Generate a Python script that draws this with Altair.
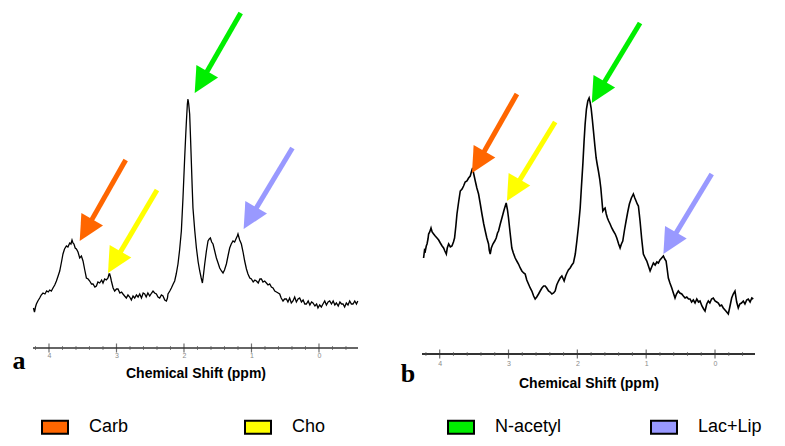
import altair as alt
import pandas as pd

# ---------------- data ----------------
metabolites = ["Carb", "Cho", "N-acetyl", "Lac+Lip"]
metab_colors = ["#FF6600", "#FFFF00", "#00EE00", "#9999FF"]

major_ticks = [4, 3, 2, 1, 0]
minor_ticks = [4.2, 3.8, 3.6, 3.4, 3.2, 2.8, 2.6, 2.4, 2.2, 1.8, 1.6, 1.4, 1.2,
               0.8, 0.6, 0.4, 0.2, -0.2, -0.4]

# panel a spectrum (ppm, arbitrary intensity)
a_ppm = [4.230, 4.215, 4.200, 4.187, 4.165, 4.138, 4.115, 4.089, 4.060, 4.035, 4.010, 3.990, 3.965, 3.941,
         3.915, 3.890, 3.865, 3.841, 3.815, 3.793, 3.770, 3.742, 3.720, 3.693, 3.675, 3.659, 3.645, 3.630,
         3.612, 3.594, 3.570, 3.545, 3.520, 3.496, 3.470, 3.446, 3.420, 3.397, 3.370, 3.348, 3.320, 3.298,
         3.275, 3.249, 3.220, 3.200, 3.175, 3.150, 3.126, 3.110, 3.101, 3.085, 3.076, 3.050, 3.027, 3.000,
         2.978, 2.950, 2.925, 2.904, 2.880, 2.854, 2.830, 2.804, 2.780, 2.755, 2.730, 2.705, 2.680, 2.656,
         2.630, 2.605, 2.582, 2.560, 2.535, 2.508, 2.480, 2.459, 2.435, 2.409, 2.385, 2.360, 2.335, 2.311,
         2.285, 2.261, 2.245, 2.237, 2.210, 2.187, 2.160, 2.138, 2.115, 2.089, 2.065, 2.039, 2.015, 1.990,
         1.975, 1.964, 1.950, 1.941, 1.930, 1.916, 1.903, 1.890, 1.878, 1.867, 1.840, 1.816, 1.790, 1.767,
         1.745, 1.727, 1.710, 1.693, 1.668, 1.644, 1.625, 1.609, 1.590, 1.570, 1.545, 1.520, 1.495, 1.471,
         1.445, 1.422, 1.400, 1.372, 1.345, 1.323, 1.300, 1.274, 1.250, 1.224, 1.210, 1.200, 1.175, 1.150,
         1.125, 1.101, 1.075, 1.052, 1.025, 1.001, 0.975, 0.950, 0.927, 0.900, 0.875, 0.853, 0.830, 0.805,
         0.779, 0.755, 0.730, 0.705, 0.681, 0.655, 0.630, 0.605, 0.582, 0.560, 0.533, 0.510, 0.483, 0.460,
         0.435, 0.410, 0.385, 0.360, 0.335, 0.310, 0.286, 0.260, 0.235, 0.210, 0.187, 0.160, 0.135, 0.110,
         0.089, 0.060, 0.035, 0.015, -0.010, -0.035, -0.059, -0.085, -0.110, -0.135, -0.159, -0.185, -0.210,
         -0.235, -0.258, -0.285, -0.310, -0.335, -0.356, -0.380, -0.405, -0.430, -0.455, -0.480, -0.504,
         -0.530, -0.555, -0.575]
a_int = [40, 36, 41, 44, 47, 50, 53, 55, 54, 57, 56, 58, 57, 60,
         63, 67, 72, 77, 86, 94, 99, 102, 101, 105, 104, 108, 105, 104,
         100, 99, 96, 90, 92, 87, 78, 70, 69, 67, 64, 64, 61, 62,
         66, 65, 68, 65, 69, 68, 70, 74, 74, 70, 67, 60, 57, 59,
         59, 55, 56, 54, 52, 50, 53, 51, 48, 52, 50, 53, 51, 54,
         50, 55, 54, 51, 55, 52, 55, 57, 55, 54, 51, 50, 53, 52,
         48, 47, 50, 54, 57, 60, 64, 67, 74, 84, 98, 117, 150, 190,
         212, 227, 244, 249, 244, 234, 210, 184, 160, 140, 117, 100, 86, 77,
         70, 65, 74, 84, 97, 107, 109, 110, 106, 104, 97, 90, 85, 80,
         77, 75, 78, 84, 93, 100, 104, 107, 106, 110, 112, 114, 108, 104,
         96, 87, 79, 74, 70, 69, 66, 68, 67, 65, 69, 69, 66, 67,
         65, 63, 64, 61, 60, 57, 56, 55, 54, 50, 47, 49, 49, 46,
         50, 45, 47, 51, 46, 49, 50, 46, 48, 44, 44, 47, 43, 46,
         45, 42, 44, 40, 43, 41, 44, 47, 43, 46, 47, 44, 47,
         43, 45, 42, 46, 44, 44, 41, 45, 43, 47, 44, 44,
         47, 44, 47]

# panel b spectrum
b_ppm = [4.234, 4.220, 4.209, 4.195, 4.184, 4.170, 4.161, 4.145, 4.126, 4.110, 4.088, 4.065, 4.039, 4.015,
         3.991, 3.965, 3.943, 3.925, 3.904, 3.890, 3.870, 3.845, 3.822, 3.800, 3.784, 3.765, 3.749, 3.725,
         3.701, 3.675, 3.653, 3.630, 3.604, 3.580, 3.556, 3.540, 3.522, 3.505, 3.483, 3.460, 3.435, 3.410,
         3.386, 3.360, 3.338, 3.315, 3.290, 3.280, 3.266, 3.250, 3.227, 3.200, 3.179, 3.160, 3.145, 3.120,
         3.096, 3.065, 3.034, 3.015, 3.000, 2.975, 2.952, 2.930, 2.903, 2.880, 2.855, 2.830, 2.806, 2.780,
         2.758, 2.735, 2.710, 2.685, 2.661, 2.635, 2.613, 2.590, 2.564, 2.540, 2.515, 2.490, 2.467, 2.445,
         2.419, 2.395, 2.370, 2.345, 2.322, 2.300, 2.274, 2.250, 2.225, 2.205, 2.192, 2.170, 2.152, 2.130,
         2.105, 2.080, 2.057, 2.030, 2.007, 1.983, 1.959, 1.940, 1.920, 1.903, 1.887, 1.868, 1.848, 1.829,
         1.815, 1.800, 1.783, 1.766, 1.745, 1.727, 1.710, 1.694, 1.675, 1.659, 1.645, 1.630, 1.612, 1.597,
         1.580, 1.563, 1.545, 1.524, 1.500, 1.476, 1.450, 1.427, 1.400, 1.379, 1.360, 1.340, 1.315, 1.292,
         1.268, 1.244, 1.215, 1.186, 1.165, 1.147, 1.130, 1.113, 1.100, 1.089, 1.065, 1.041, 1.015, 0.991,
         0.967, 0.943, 0.920, 0.895, 0.870, 0.845, 0.823, 0.800, 0.775, 0.750, 0.730, 0.711, 0.695, 0.678,
         0.655, 0.628, 0.605, 0.581, 0.560, 0.533, 0.510, 0.483, 0.460, 0.435, 0.410, 0.385, 0.363, 0.340,
         0.315, 0.290, 0.265, 0.240, 0.218, 0.190, 0.165, 0.145, 0.120, 0.097, 0.075, 0.050, 0.025, 0.000,
         -0.025, -0.048, -0.072, -0.096, -0.120, -0.145, -0.170, -0.193, -0.215, -0.242, -0.265, -0.290,
         -0.315, -0.338, -0.360, -0.385, -0.411, -0.435, -0.460, -0.483, -0.510, -0.535, -0.556]
b_int = [96, 104, 103, 108, 110, 115, 120, 122, 126, 122, 120, 118, 116, 114,
         111, 108, 106, 103, 100, 106, 110, 107, 108, 112, 116, 128, 140, 152,
         163, 165, 168, 172, 173, 176, 178, 182, 186, 180, 173, 166, 160, 150,
         140, 130, 123, 116, 110, 104, 100, 106, 110, 113, 116, 121, 123, 130,
         136, 144, 151, 144, 136, 120, 106, 101, 96, 93, 90, 86, 83, 81,
         80, 74, 70, 66, 63, 58, 55, 57, 60, 63, 66, 68, 68, 66,
         63, 62, 60, 61, 63, 69, 73, 76, 78, 75, 73, 78, 81, 84,
         86, 89, 91, 100, 113, 128, 146, 168, 190, 212, 230, 245, 253, 256,
         252, 246, 235, 223, 208, 196, 189, 183, 175, 166, 155, 143, 145, 146,
         140, 136, 133, 130, 126, 123, 120, 116, 110, 106, 110, 113, 124, 133,
         142, 150, 156, 160, 156, 153, 150, 148, 140, 133, 115, 100, 96, 93,
         88, 83, 87, 91, 89, 92, 91, 94, 96, 98, 95, 93, 85, 76,
         71, 66, 61, 56, 60, 63, 61, 60, 58, 56, 57, 55, 55, 52,
         54, 51, 55, 52, 53, 48, 45, 43, 50, 53, 51, 55, 56, 53,
         52, 51, 48, 49, 46, 44, 42, 40, 47, 56, 60, 63,
         52, 46, 50, 51, 53, 50, 54, 55, 52, 56, 55]

# arrows (tail and tip, in ppm / intensity), order = metabolites
a_tail_ppm = [2.864, 2.400, 1.160, 0.394]
a_tail_int = [188, 158, 335, 200]
a_tip_ppm = [3.545, 3.126, 1.841, 1.116]
a_tip_int = [107, 75, 255, 119]

b_tail_ppm = [2.878, 2.322, 1.089, 0.048]
b_tail_int = [260, 232, 331, 180]
b_tip_ppm = [3.531, 3.023, 1.790, 0.750]
b_tip_int = [181, 153, 251, 100]

HEAD = "M0,0L0.5,1L-0.5,1Z"
SWATCH = "M-2,-1H2V1H-2Z"

legend = alt.Legend(
    title=None, orient="none", legendX=13, legendY=409, direction="horizontal",
    columns=4, symbolType=SWATCH, symbolSize=169, symbolStrokeColor="black",
    symbolStrokeWidth=2, symbolOpacity=1, labelFont="Liberation Sans", labelFontSize=18,
    labelColor="black", labelOffset=25, columnPadding=85, gridAlign="all",
    padding=0, labelLimit=0)


def panel(ppm, inten, tail_ppm, tail_int, tip_ppm, tip_int, xdom, width, height,
          letter, letter_y, label_pad, title_pad, axis_w, line_w):
    spec = pd.DataFrame({"ppm": ppm, "intensity": inten})
    arrows = pd.DataFrame({"metab": metabolites, "col": metab_colors,
                           "tx": tail_ppm, "ty": tail_int,
                           "hx": tip_ppm, "hy": tip_int})
    frac = 0.19
    arrows["sx"] = arrows["hx"] + (arrows["tx"] - arrows["hx"]) * frac
    arrows["sy"] = arrows["hy"] + (arrows["ty"] - arrows["hy"]) * frac

    xs = alt.Scale(domain=xdom, reverse=True, nice=False, zero=False)
    ys = alt.Scale(domain=[0, height], nice=False, zero=False)

    line = alt.Chart(spec).mark_line(color="black", strokeWidth=line_w).encode(
        x=alt.X("ppm:Q", scale=xs, axis=alt.Axis(
            title="Chemical Shift (ppm)", values=major_ticks, ticks=False, domain=False,
            grid=False, labelFontSize=7, labelColor="#8a8a8a", labelPadding=label_pad,
            titlePadding=title_pad, titleFont="Liberation Sans", titleFontSize=14,
            titleFontWeight="bold", titleColor="black", format="d")),
        y=alt.Y("intensity:Q", scale=ys, axis=None),
    )

    base_line = alt.Chart(pd.DataFrame({"y": [0]})).mark_rule(
        color="#333333", strokeWidth=axis_w).encode(
        x=alt.value(0), x2=alt.value(width), y=alt.Y("y:Q", scale=ys))

    maj = alt.Chart(pd.DataFrame({"ppm": major_ticks, "y": [0] * len(major_ticks)})).mark_tick(
        orient="vertical", size=9, thickness=1.2, color="#333333").encode(
        x=alt.X("ppm:Q", scale=xs), y=alt.Y("y:Q", scale=ys))
    mnr = alt.Chart(pd.DataFrame({"ppm": minor_ticks, "y": [0] * len(minor_ticks)})).mark_tick(
        orient="vertical", size=4, thickness=1, color="#555555").encode(
        x=alt.X("ppm:Q", scale=xs), y=alt.Y("y:Q", scale=ys))

    shaft = alt.Chart(arrows).mark_rule(strokeWidth=5).encode(
        x=alt.X("tx:Q", scale=xs), y=alt.Y("ty:Q", scale=ys),
        x2="sx:Q", y2="sy:Q",
        stroke=alt.Stroke("col:N", scale=None))

    head = alt.Chart(arrows).mark_point(
        shape=HEAD, filled=True, size=2500, angle=210, opacity=1).encode(
        x=alt.X("hx:Q", scale=xs), y=alt.Y("hy:Q", scale=ys),
        fill=alt.Fill("metab:N", scale=alt.Scale(domain=metabolites, range=metab_colors),
                      legend=legend))

    lab = alt.Chart(pd.DataFrame({"t": [letter]})).mark_text(
        font="Liberation Serif", fontSize=26, fontWeight="bold", align="center",
        baseline="alphabetic", color="black").encode(
        text="t:N", x=alt.value(-14), y=alt.value(letter_y))

    return alt.layer(line, base_line, mnr, maj, shaft, head, lab).properties(
        width=width, height=height)


pa = panel(a_ppm, a_int, a_tail_ppm, a_tail_int, a_tip_ppm, a_tip_int,
           [-0.578, 4.237], 325, 339, "a", 360, 3, 8, 1.5, 1.3)
pb = panel(b_ppm, b_int, b_tail_ppm, b_tail_int, b_tip_ppm, b_tip_int,
           [-0.581, 4.257], 333, 345, "b", 373, 5, 10, 2, 1.6)

chart = alt.hconcat(pa, pb, spacing=64, bounds="flush").properties(
    padding={"left": 4, "top": 0, "right": 0, "bottom": 0},
    background="white",
).configure_view(stroke="transparent")

chart.save("out.html", embed_options={"renderer": "svg", "actions": False})
